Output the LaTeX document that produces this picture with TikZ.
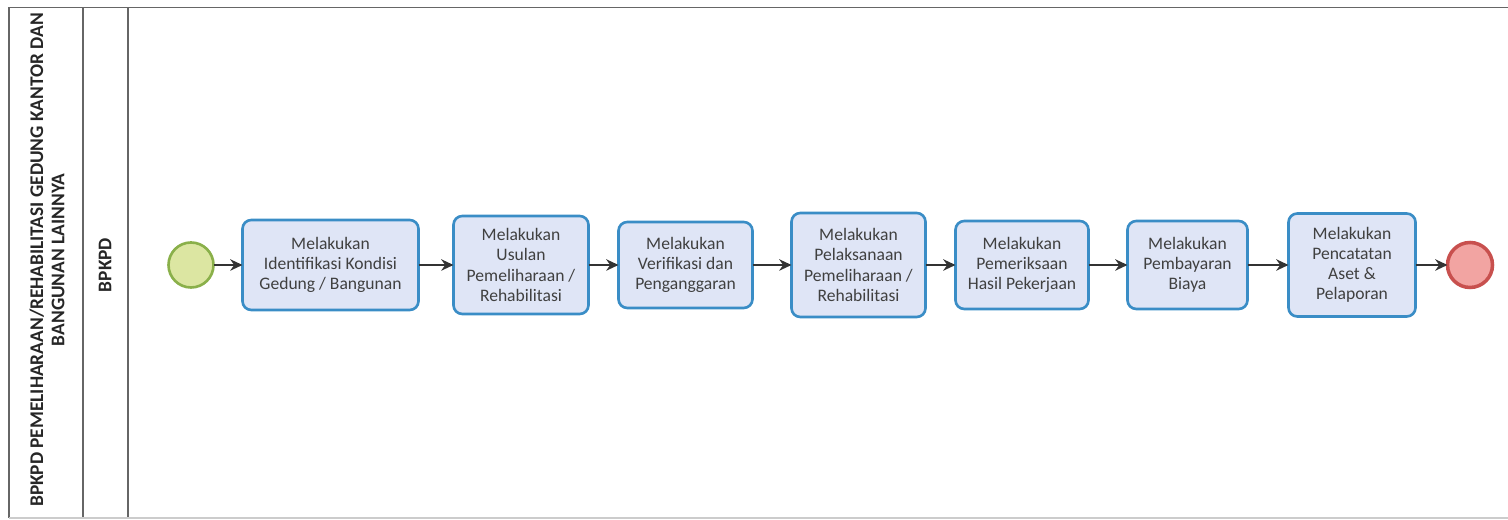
\documentclass[tikz,border=0pt]{standalone}
\usepackage{fontspec}
\setmainfont{Carlito}
\usepackage{tikz}
\usetikzlibrary{arrows.meta,positioning}
\definecolor{taskfill}{HTML}{DFE5F6}
\definecolor{taskline}{HTML}{3A8DC6}
\definecolor{startfill}{HTML}{DCE6A2}
\definecolor{startline}{HTML}{8AB04A}
\definecolor{endfill}{HTML}{F2A4A2}
\definecolor{endline}{HTML}{C8504E}
\definecolor{laneline}{HTML}{666666}
\definecolor{arrowgray}{HTML}{333333}

\begin{document}
\begin{tikzpicture}[
  font=\fontsize{10}{11.5}\selectfont,
  task/.style={draw=taskline,fill=taskfill,line width=1.5pt,rounded corners=5pt,align=center,inner sep=2pt,outer sep=0pt,text=black!75},
  startev/.style={circle,draw=startline,fill=startfill,line width=1.5pt,minimum size=0.9cm,inner sep=0pt,outer sep=0pt},
  endev/.style={circle,draw=endline,fill=endfill,line width=2pt,minimum size=0.9cm,inner sep=0pt,outer sep=0pt},
  lane/.style={draw=laneline,line width=0.8pt},
  lanetitle/.style={rotate=90,align=center,font=\fontsize{11}{12}\selectfont\bfseries,text=black!85},
  arr/.style={-{Stealth[length=7pt,width=6.5pt]},line width=1.1pt,draw=arrowgray}
]
\useasboundingbox (0,0) rectangle (30.16,10.4);
% pool and lanes
\draw[lane] (30.16,10.25) -- (0.18,10.25) -- (0.18,0.04);
\draw[lane] (1.66,10.25) -- (1.66,0.04);
\draw[lane] (2.56,10.25) -- (2.56,0.04);
\draw[draw=black!20,line width=0.6pt] (0.18,0.04) -- (30.16,0.04);
\node[lanetitle] (pooltitle) at (0.94,5.2) {BPKPD PEMELIHARAAN/REHABILITASI GEDUNG KANTOR DAN\\BANGUNAN LAINNYA};
\node[lanetitle] (lanetitle) at (2.1,5.1) {BPKPD};
% events and tasks
\node[startev] (start) at (3.82,5.1) {};
\node[task,minimum width=3.52cm,minimum height=1.80cm,right=0.58cm of start] (t1) {Melakukan\\Identifikasi Kondisi\\Gedung / Bangunan};
\node[task,minimum width=2.70cm,minimum height=1.96cm,right=0.70cm of t1] (t2) {Melakukan\\Usulan\\Pemeliharaan /\\Rehabilitasi};
\node[task,minimum width=2.68cm,minimum height=1.72cm,right=0.60cm of t2] (t3) {Melakukan\\Verifikasi dan\\Penganggaran};
\node[task,minimum width=2.68cm,minimum height=2.08cm,right=0.78cm of t3] (t4) {Melakukan\\Pelaksanaan\\Pemeliharaan /\\Rehabilitasi};
\node[task,minimum width=2.66cm,minimum height=1.76cm,right=0.60cm of t4] (t5) {Melakukan\\Pemeriksaan\\Hasil Pekerjaan};
\node[task,minimum width=2.40cm,minimum height=1.76cm,right=0.78cm of t5] (t6) {Melakukan\\Pembayaran\\Biaya};
\node[task,minimum width=2.54cm,minimum height=2.06cm,right=0.82cm of t6] (t7) {Melakukan\\Pencatatan\\Aset \&\\Pelaporan};
\node[endev,right=0.64cm of t7] (finish) {};
\foreach \a/\b in {start/t1,t1/t2,t2/t3,t3/t4,t4/t5,t5/t6,t6/t7,t7/finish}
  \draw[arr] (\a) -- (\b);
\end{tikzpicture}
\end{document}
